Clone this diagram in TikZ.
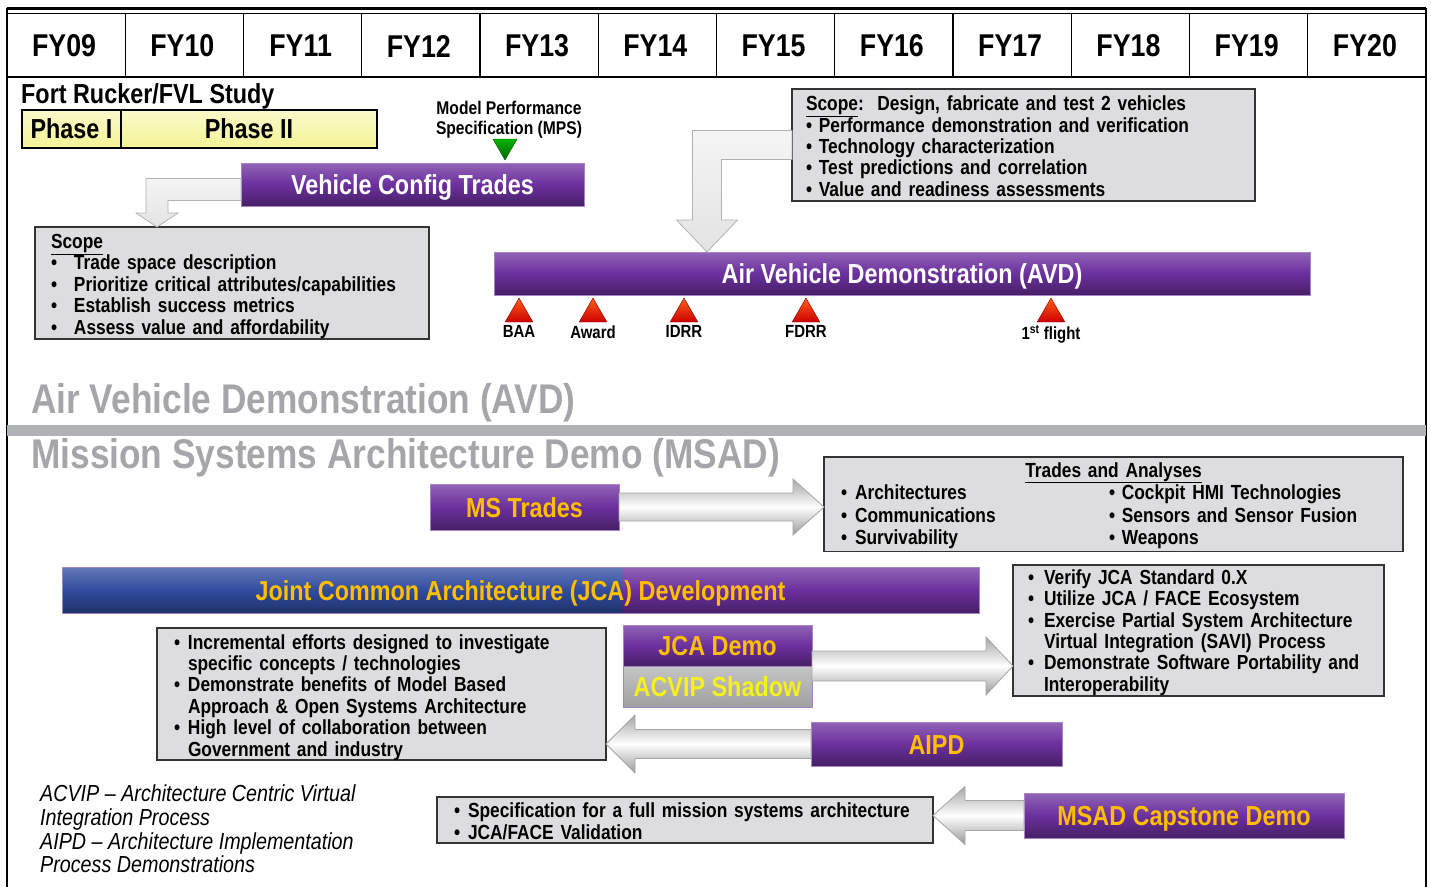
\documentclass[tikz,border=0pt]{standalone}
\usepackage{fontspec}
\setmainfont{Liberation Sans}[FakeStretch=0.85]
\usetikzlibrary{calc,positioning,shapes.geometric}

\definecolor{barpurple}{RGB}{108,48,158}
\definecolor{jcablue}{RGB}{48,76,160}
\definecolor{msgold}{RGB}{255,190,0}
\definecolor{acvipyellow}{RGB}{245,240,30}
\definecolor{boxgray}{RGB}{221,221,224}
\definecolor{titlegray}{RGB}{166,166,170}
\definecolor{bandgray}{RGB}{177,178,182}
\definecolor{phaseyellow}{RGB}{244,244,150}

\newcommand{\bul}[1][14pt]{\makebox[#1][l]{\textbullet}}

% straight block arrow: start, target, half band, half head, head length
\newcommand{\blockarrow}[5]{%
  \coordinate (ba-t) at (#1 -| #2);
  \coordinate (ba-h) at ($(ba-t)!#5!(#1)$);
  \path[flatarrow] ($(#1)+(0,-#3)$) -- ($(ba-h)+(0,-#3)$) -- ($(ba-h)+(0,-#4)$)
    -- (ba-t) -- ($(ba-h)+(0,#4)$) -- ($(ba-h)+(0,#3)$) -- ($(#1)+(0,#3)$) -- cycle;}

% bent block arrow: left from start, then down to tip
\newcommand{\bentarrow}[5]{%
  \path[bentarrow] ($(#1)+(0,-#3)$) -- ($(#1 -| #2)+(-#3,-#3)$) -- ($(#2)+(-#3,-#5)$)
    -- ($(#2)+(-#4,-#5)$) -- (#2) -- ($(#2)+(#4,-#5)$) -- ($(#2)+(#3,-#5)$)
    -- ($(#1 -| #2)+(#3,#3)$) -- ($(#1)+(0,#3)$) -- cycle;}

\begin{document}
\begin{tikzpicture}[x=1pt,y=-1pt]
\tikzstyle{year} = [font=\bfseries\fontsize{31.5}{32}\selectfont]
\tikzstyle{bar} = [rectangle, draw=barpurple!60!white, line width=1pt,
top color=barpurple!75!white, bottom color=barpurple!65!black, middle color=barpurple,
font=\bfseries\fontsize{27.5}{30}\selectfont, text height=22pt, text depth=2pt,
inner sep=0pt, outer sep=0pt, anchor=north west]
\tikzstyle{info} = [rectangle, draw=black!80, line width=1.5pt, fill=boxgray, align=left,
anchor=north west, inner ysep=0pt, outer sep=0pt, text height=21pt,
font=\bfseries\fontsize{20.4}{21.4}\selectfont]
\tikzstyle{phase} = [rectangle, draw=black, line width=1.5pt, top color=phaseyellow!50!white,
bottom color=phaseyellow, font=\bfseries\fontsize{27.5}{30}\selectfont, inner sep=0pt,
outer sep=0pt, minimum height=38, anchor=north west]
\tikzstyle{milestone} = [regular polygon, regular polygon sides=3, minimum size=32, inner sep=0pt,
draw=red!50!black, top color=red!40!orange!90, bottom color=red!80!black]
\tikzstyle{mslabel} = [font=\bfseries\fontsize{17.6}{18}\selectfont, inner sep=0pt, yshift=-3pt]
\tikzstyle{bigtitle} = [font=\bfseries\fontsize{41.5}{44}\selectfont, text=titlegray, anchor=west, inner sep=0pt]
\tikzstyle{flatarrow} = [draw=gray!70, line width=0.8pt, top color=gray!70, bottom color=gray!80, middle color=white]
\tikzstyle{bentarrow} = [draw=gray!60, line width=0.8pt, top color=gray!8, bottom color=gray!22]

\useasboundingbox (0,0) rectangle (1431,887);

% frame and fiscal years
\draw[line width=3pt] (7,8.5) -- (1426,8.5);
\draw[line width=1pt] (7,13) -- (1426,13);
\draw[line width=2.5pt] (7,77) -- (1426,77);
\draw[line width=2pt] (7,8) -- (7,887);
\draw[line width=2pt] (1426,8) -- (1426,887);
\foreach \i in {1,...,11}
  \draw[line width=1.2pt] ({7+118.25*\i},13) -- ({7+118.25*\i},77);
\foreach \yr [count=\i] in {09,10,11,12,13,14,15,16,17,18,19,20}
  \node[year] (fy\yr) at ({5+118.25*(\i-0.5)},46) {FY\yr};

% AVD part
\node[anchor=west, font=\bfseries\fontsize{27.5}{30}\selectfont, inner sep=0pt] (rucker) at (21,96) {Fort Rucker/FVL Study};
\node[phase, minimum width=99] (phase1) at (22,110) {Phase I};
\node[phase, minimum width=256, right=0pt of phase1] (phase2) {Phase II};
\node[align=center, font=\bfseries\fontsize{18.4}{20}\selectfont, inner sep=0pt] (mps) at (509,120) {Model Performance\\Specification (MPS)};
\node[regular polygon, regular polygon sides=3, rotate=180, minimum size=28, inner sep=0pt,
draw=green!35!black, top color=green!70!black, bottom color=green!40!black] (mpsmark) at (505,146) {};
\node[bar, text=white, minimum width=343, minimum height=43] (vct) at (241,163) {Vehicle Config Trades};
\node[info, text width=362, inner xsep=16, minimum height=112] (scopea) at (35,227) {\underline{Scope}\\
\bul[23pt]Trade space description\\
\bul[23pt]Prioritize critical attributes/capabilities\\
\bul[23pt]Establish success metrics\\
\bul[23pt]Assess value and affordability};
\node[info, text width=435, inner xsep=14, minimum height=112, text height=17pt] (scopeb) at (792,89) {\underline{Scope}:\ \ Design, fabricate and test 2 vehicles\\
\textbullet\ Performance demonstration and verification\\
\textbullet\ Technology characterization\\
\textbullet\ Test predictions and correlation\\
\textbullet\ Value and readiness assessments};
\node[bar, text=white, minimum width=816, minimum height=43] (avd) at (494,252) {Air Vehicle Demonstration (AVD)};
\foreach \name/\x/\txt in {baa/519/BAA, award/593/Award, idrr/684/IDRR, fdrr/806/FDRR, first/1051/1\textsuperscript{st} flight}
  \node[milestone, label={[mslabel]below:\txt}] (\name) at (\x,314) {};

\coordinate (vctstart) at ($(vct.west)+(0,5)$);
\coordinate (vcttip) at ($(scopea.north west)+(122,0)$);
\bentarrow{vctstart}{vcttip}{11}{21}{14}
\coordinate (avdtip) at ($(avd.north west)+(213,0)$);
\bentarrow{scopeb.west}{avdtip}{14.5}{30.5}{32}

\node[bigtitle] (avdtitle) at (31,403) {Air Vehicle Demonstration (AVD)};
\fill[bandgray] (7,425) rectangle (1426,436);
\node[bigtitle] (msadtitle) at (31,458) {Mission Systems Architecture Demo (MSAD)};

% MSAD part
\node[bar, text=msgold, minimum width=189, minimum height=46] (mstrades) at (430,484) {MS Trades};
\node[info, text width=545, inner xsep=17, minimum height=92, align=center, text height=20pt,
font=\bfseries\fontsize{20.4}{22.5}\selectfont] (trades) at (824,457) {\underline{Trades and Analyses}\\
\begin{tabular}[t]{@{}p{268pt}@{}p{277pt}@{}}
\bul Architectures & \textbullet\ Cockpit HMI Technologies\\
\bul Communications & \textbullet\ Sensors and Sensor Fusion\\
\bul Survivability & \textbullet\ Weapons
\end{tabular}};
\node[bar, text=msgold, minimum width=917, minimum height=46,
path picture={\shade[top color=jcablue!75!white, bottom color=jcablue!65!black, middle color=jcablue]
(path picture bounding box.north west) rectangle ($(path picture bounding box.south west)+(560,0)$);}]
(jca) at (62,567) {Joint Common Architecture (JCA) Development};
\node[info, text width=341, inner xsep=15, minimum height=131, text height=19pt] (jcabox) at (1013,565) {\bul[16pt]Verify JCA Standard 0.X\\
\bul[16pt]Utilize JCA / FACE Ecosystem\\
\bul[16pt]Exercise Partial System Architecture\\
\hspace*{16pt}Virtual Integration (SAVI) Process\\
\bul[16pt]Demonstrate Software Portability and\\
\hspace*{16pt}Interoperability};
\node[info, text width=415, inner xsep=17, minimum height=132] (incbox) at (157,628) {\bul Incremental efforts designed to investigate\\
\hspace*{14pt}specific concepts / technologies\\
\bul Demonstrate benefits of Model Based\\
\hspace*{14pt}Approach \& Open Systems Architecture\\
\bul High level of collaboration between\\
\hspace*{14pt}Government and industry};
\node[bar, text=msgold, minimum width=189, minimum height=41] (jcademo) at (623,625) {JCA Demo};
\node[bar, text=acvipyellow, top color=gray!45, bottom color=gray!75, middle color=gray!60,
minimum width=189, minimum height=41, below=0pt of jcademo] (acvip) {ACVIP Shadow};
\node[bar, text=msgold, minimum width=251, minimum height=44] (aipd) at (811,722) {AIPD};
\node[anchor=west, align=left, inner sep=0pt, font=\itshape\fontsize{23.2}{23.7}\selectfont] (notes) at (40,829)
{ACVIP – Architecture Centric Virtual\\
Integration Process\\
AIPD – Architecture Implementation\\
Process Demonstrations};
\node[info, text width=462, inner xsep=17, minimum height=46, text height=17pt] (specbox) at (437,797) {\bul\mbox{Specification for a full mission systems architecture}\\
\bul JCA/FACE Validation};
\node[bar, text=msgold, minimum width=320, minimum height=45] (capstone) at (1024,793) {MSAD Capstone Demo};

\blockarrow{mstrades.east}{trades.west}{14}{28}{31pt}
\blockarrow{jcademo.south east}{jcabox.west}{15}{29}{27pt}
\blockarrow{aipd.west}{incbox.east}{14.5}{29}{29pt}
\blockarrow{capstone.west}{specbox.east}{15}{29}{32pt}
\end{tikzpicture}
\end{document}
